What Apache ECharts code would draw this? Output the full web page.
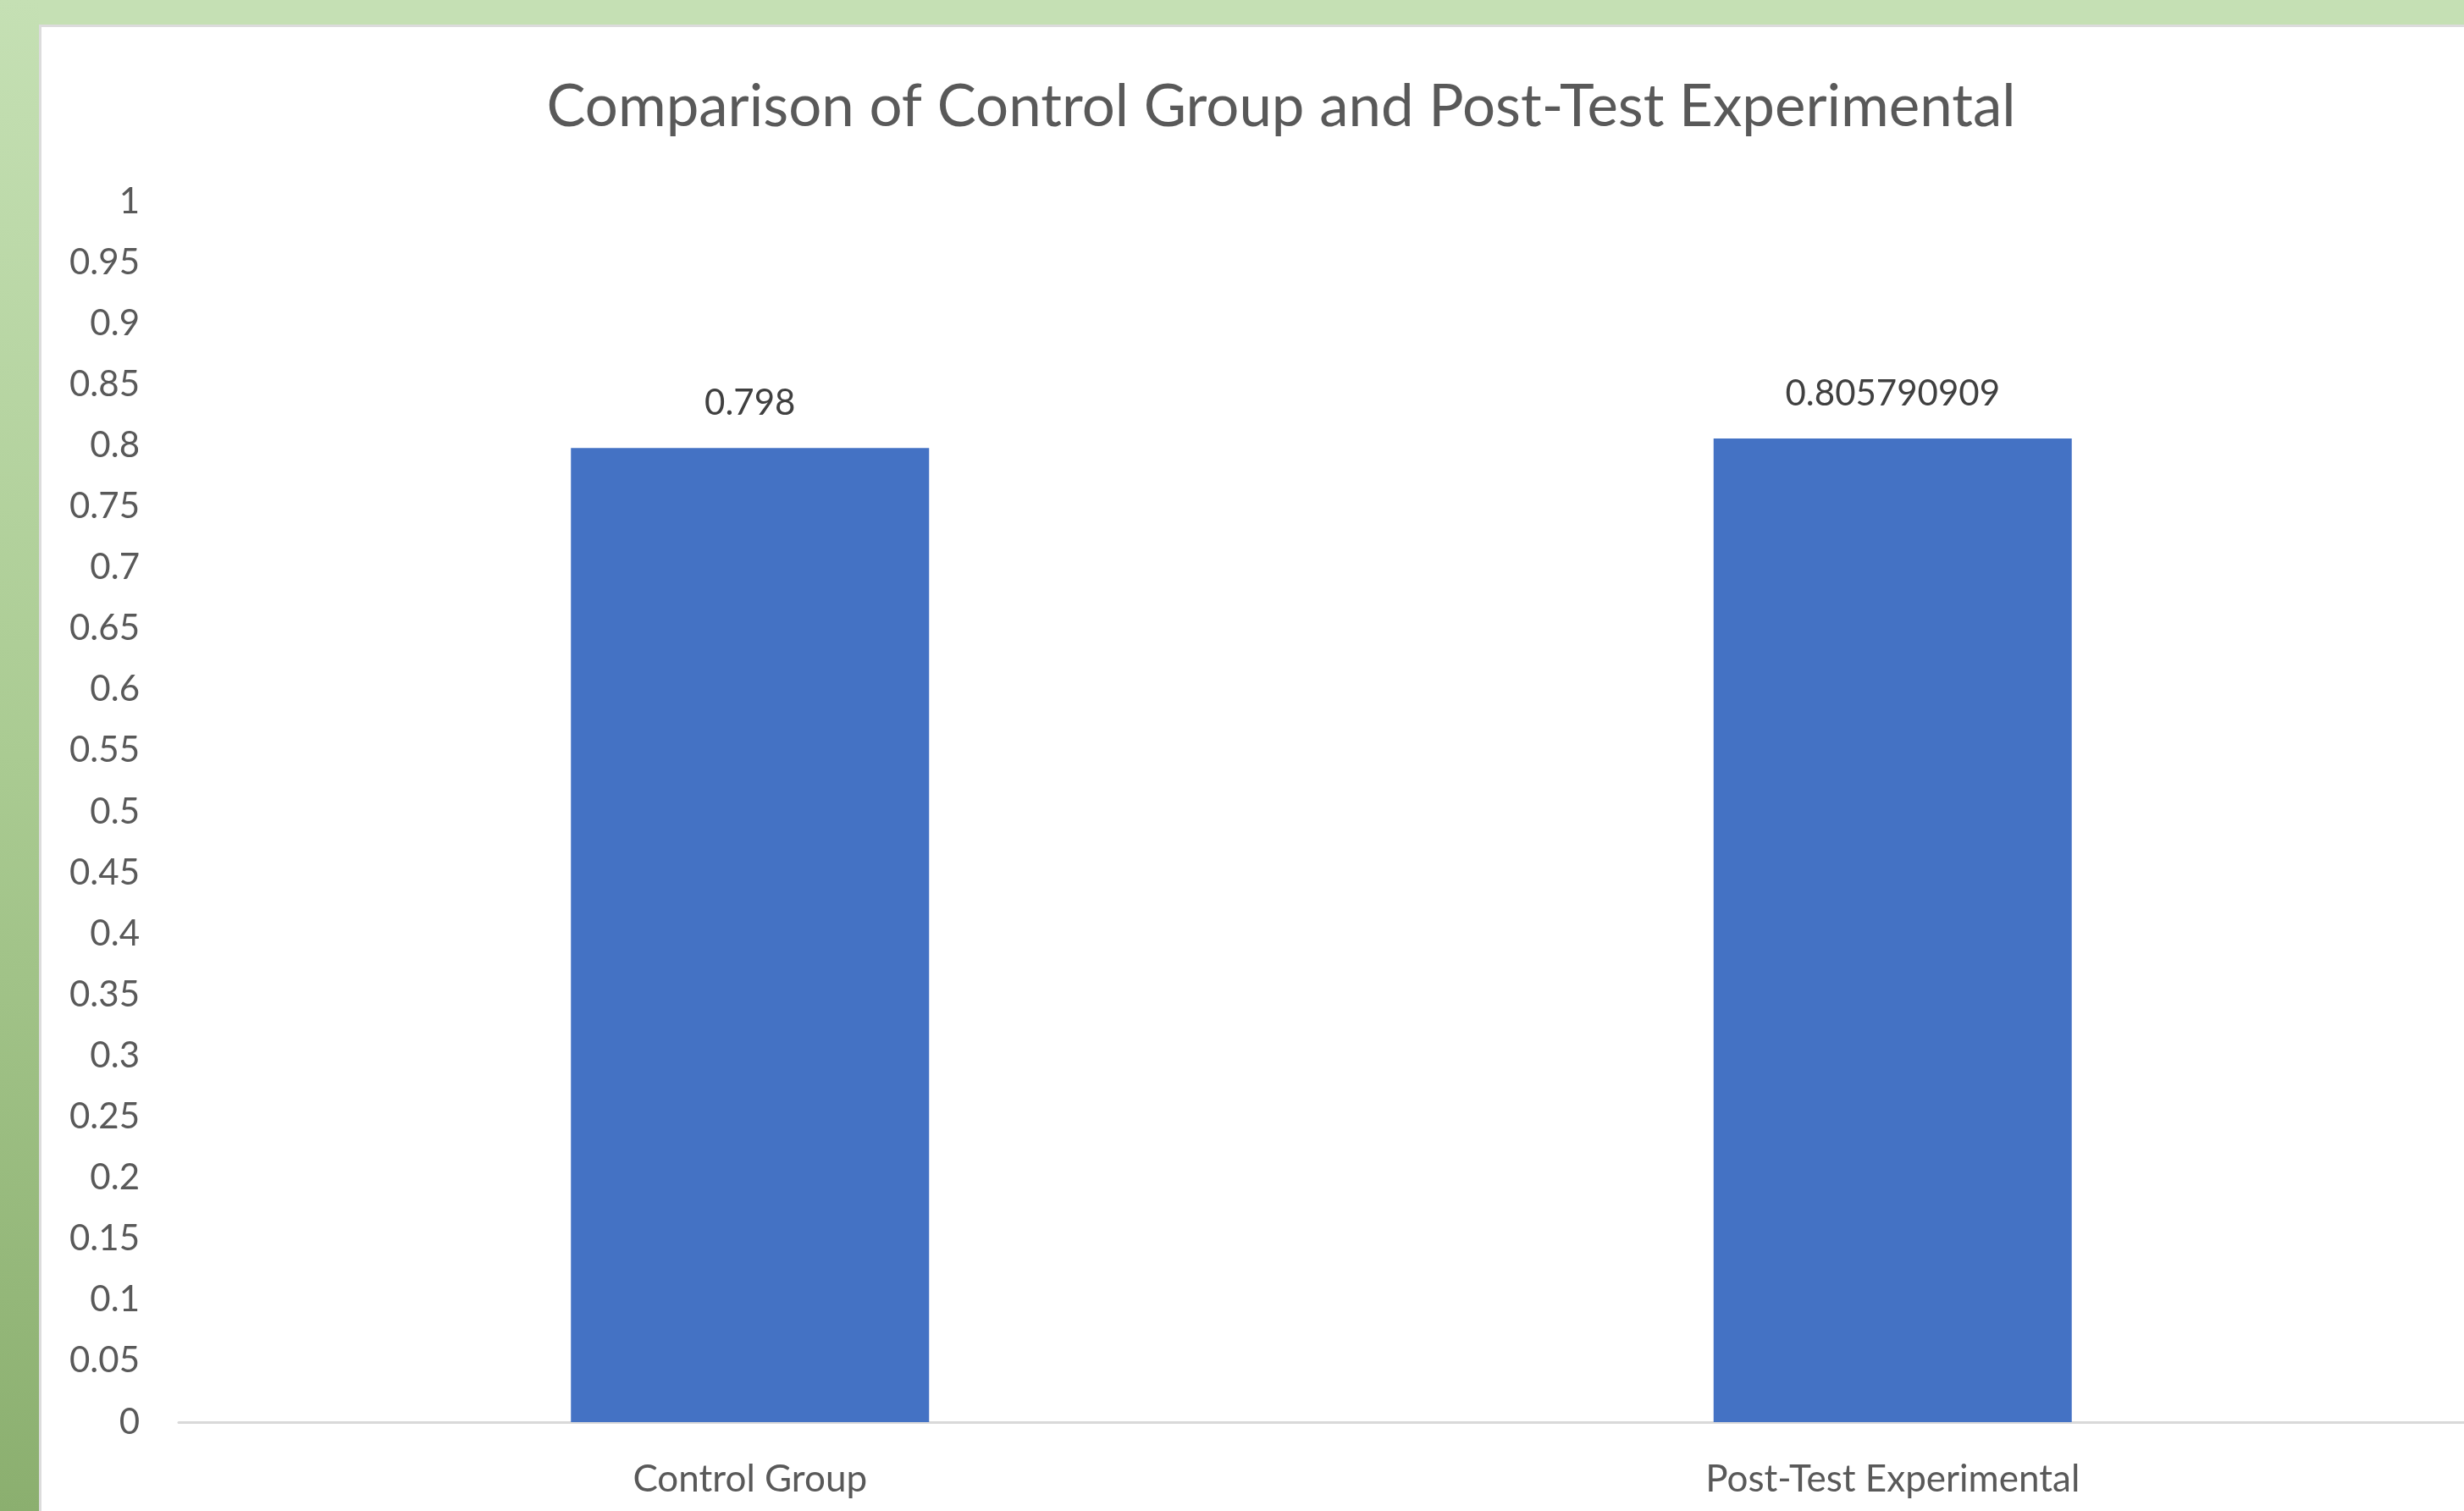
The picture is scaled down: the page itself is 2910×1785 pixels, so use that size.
<!DOCTYPE html>
<html>
<head>
<meta charset="utf-8">
<title>Comparison of Control Group and Post-Test Experimental</title>
<script src="https://cdn.jsdelivr.net/npm/echarts@6/dist/echarts.min.js"></script>
<style>
  html, body { margin: 0; padding: 0; background: #ffffff; }
  #chart { width: 2910px; height: 1785px; }
</style>
</head>
<body>
<div id="chart"></div>
<script>
// Chart data
const chartTitle = 'Comparison of Control Group and Post-Test Experimental';
const categories = ['Control Group', 'Post-Test Experimental'];
const scores = [0.798, 0.805790909];
const yTickLabels = ['0', '0.05', '0.1', '0.15', '0.2', '0.25', '0.3', '0.35', '0.4', '0.45',
  '0.5', '0.55', '0.6', '0.65', '0.7', '0.75', '0.8', '0.85', '0.9', '0.95', '1'];

const FONT = 'Lato';
const chart = echarts.init(document.getElementById('chart'), null, { renderer: 'canvas' });

chart.setOption({
  backgroundColor: '#ffffff',
  animation: false,
  title: {
    text: chartTitle,
    left: 1508,
    textAlign: 'center',
    top: 87,
    textStyle: { fontFamily: FONT, fontSize: 69, fontWeight: 'normal', color: '#595959' }
  },
  graphic: [
    // green slide frame along the top and left edges
    { type: 'rect', silent: true, z: -10, shape: { x: 0, y: 0, width: 2910, height: 29 },
      style: { fill: '#c5e0b4' } },
    { type: 'rect', silent: true, z: -10, shape: { x: 0, y: 0, width: 46, height: 1785 },
      style: { fill: new echarts.graphic.LinearGradient(0, 0, 0, 1, [
        { offset: 0, color: '#c5e0b4' },
        { offset: 0.5, color: '#aacb92' },
        { offset: 1, color: '#8baf6f' }
      ]) } },
    // thin grey edge of the white chart panel
    { type: 'rect', silent: true, z: -9, shape: { x: 46, y: 29, width: 2864, height: 3 },
      style: { fill: '#dcdcdc' } },
    { type: 'rect', silent: true, z: -9, shape: { x: 46, y: 29, width: 3, height: 1756 },
      style: { fill: '#dcdcdc' } }
  ],
  // the plot area runs slightly past the right edge of the canvas
  grid: { left: 211, width: 2704, top: 238, bottom: 105 },
  xAxis: {
    type: 'category',
    data: categories,
    axisLine: { lineStyle: { color: '#d9d9d9', width: 3 } },
    axisTick: { show: false },
    axisLabel: { fontFamily: FONT, fontSize: 44, color: '#595959', margin: 46 }
  },
  yAxis: {
    type: 'value',
    min: 0,
    max: 1,
    interval: 0.05,
    axisLine: { show: false },
    axisTick: { show: false },
    splitLine: { show: false },
    axisLabel: {
      fontFamily: FONT, fontSize: 42, color: '#595959', margin: 46,
      formatter: (v) => yTickLabels[Math.round(v / 0.05)]
    }
  },
  series: [{
    type: 'bar',
    data: scores,
    barWidth: 423,
    itemStyle: { color: '#4472c4' },
    label: {
      show: true,
      position: 'top',
      distance: 32,
      fontFamily: FONT,
      fontSize: 42,
      color: '#404040'
    }
  }]
});
</script>
</body>
</html>
